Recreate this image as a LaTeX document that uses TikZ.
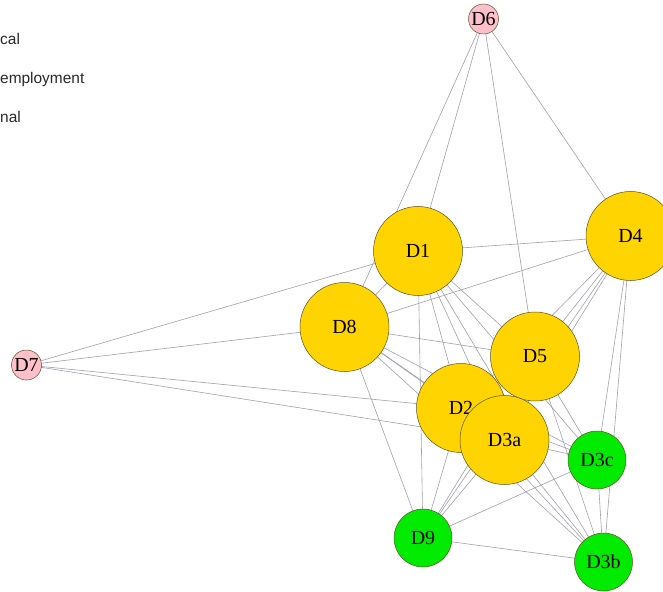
\documentclass[tikz,border=0pt]{standalone}
\usepackage{fontspec}
\setmainfont{Liberation Serif}
\newfontfamily\legendfont{Liberation Sans}
\usetikzlibrary{backgrounds}
\definecolor{nodegold}{RGB}{255,212,0}
\definecolor{nodegreen}{RGB}{0,235,0}
\definecolor{nodepink}{RGB}{255,192,203}
\definecolor{edgegray}{RGB}{160,160,172}
\definecolor{rimcol}{RGB}{90,80,40}
\definecolor{legendcol}{RGB}{40,40,40}
\tikzset{
  vtx/.style={circle, draw=rimcol, line width=0.5bp, inner sep=0pt,
    font=\fontsize{20}{20}\selectfont, text=black},
  bigvtx/.style={vtx, fill=nodegold, minimum size=89bp},
  midvtx/.style={vtx, fill=nodegreen, minimum size=58bp},
  smallvtx/.style={vtx, fill=nodepink, minimum size=30bp},
  edge/.style={draw=edgegray, line width=0.6bp},
  legendtext/.style={anchor=base west, inner sep=0pt, text=legendcol,
    font=\legendfont\fontsize{15.5}{15.5}\selectfont}
}
\begin{document}
\begin{tikzpicture}[x=1bp,y=-1bp]
\useasboundingbox (0,0) rectangle (663,592);
% legend fragments
\node[legendtext] (l1) at (0,45) {cal};
\node[legendtext] (l2) at (0,84) {employment};
\node[legendtext] (l3) at (0,123) {nal};
% vertices
\node[smallvtx] (D6) at (483.5,19) {D6};
\node[smallvtx] (D7) at (26.5,365) {D7};
\node[bigvtx] (D1) at (418,251) {D1};
\node[bigvtx] (D4) at (630.5,236) {D4};
\node[bigvtx] (D8) at (344.5,327) {D8};
\node[bigvtx] (D2) at (461,408) {D2};
\node[bigvtx] (D5) at (535,356.5) {D5};
\node[bigvtx] (D3a) at (504.5,440) {D3a};
\node[midvtx] (D3c) at (597,460) {D3c};
\node[midvtx] (D9) at (423,538) {D9};
\node[midvtx] (D3b) at (603.5,562) {D3b};
% edges
\begin{scope}[on background layer]
\foreach \a/\b in {D6/D1,D6/D8,D6/D5,D6/D4,
  D7/D1,D7/D8,D7/D2,D7/D3a,
  D1/D4,D1/D8,D1/D2,D1/D3a,D1/D5,D1/D9,D1/D3c,D1/D3b,
  D4/D8,D4/D5,D4/D2,D4/D3a,D4/D9,D4/D3c,D4/D3b,
  D8/D5,D8/D2,D8/D3a,D8/D3c,D8/D3b,D8/D9,
  D5/D2,D5/D3a,D5/D3c,D5/D3b,D5/D9,
  D2/D3a,D2/D9,D2/D3c,D2/D3b,
  D3a/D9,D3a/D3c,D3a/D3b,
  D3c/D9,D3c/D3b,
  D9/D3b}
  \draw[edge] (\a.center) -- (\b.center);
\end{scope}
\end{tikzpicture}
\end{document}
